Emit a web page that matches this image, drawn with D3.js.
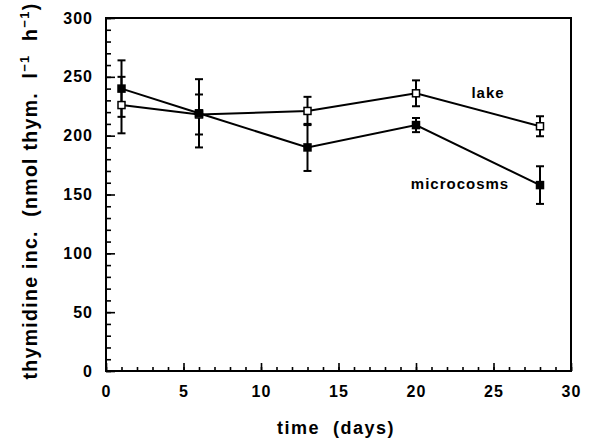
<!DOCTYPE html>
<html>
<head>
<meta charset="utf-8">
<script src="https://cdn.jsdelivr.net/npm/d3@7"></script>
<style>
  body { margin: 0; background: white; }
  text { font-family: "Liberation Sans", Arial, sans-serif; font-weight: bold; fill: black; }
</style>
</head>
<body>
<svg width="592" height="444"></svg>
<script>
// days sampled
let days = [1, 6, 13, 20, 28]

// lake (open squares)
let lake = [226, 218, 221, 236, 208]
let lakeErr = [24, 17, 12, 11, 8.5]

// microcosms (filled squares)
let micro = [240, 219, 190, 209, 158]
let microErr = [24, 29, 20, 6, 16]

let xTicks = [0, 5, 10, 15, 20, 25, 30]
let yTicks = [0, 50, 100, 150, 200, 250, 300]

let svg = d3.select("svg")
let mLeft = 106, mRight = 571, mTop = 18, mBottom = 371

let x = d3.scaleLinear().domain([0, 30]).range([mLeft, mRight])
let y = d3.scaleLinear().domain([0, 300]).range([mBottom, mTop])

// minor ticks
svg.append("g")
  .attr("transform", "translate(0," + mBottom + ")")
  .call(d3.axisBottom(x).tickValues(d3.range(0, 31, 1)).tickSize(-4).tickFormat(""))
  .call(g => g.select(".domain").remove())
svg.append("g")
  .attr("transform", "translate(" + mLeft + ",0)")
  .call(d3.axisLeft(y).tickValues(d3.range(0, 301, 10)).tickSize(-5).tickFormat(""))
  .call(g => g.select(".domain").remove())

// major ticks + labels
let xa = svg.append("g")
  .attr("transform", "translate(0," + mBottom + ")")
  .call(d3.axisBottom(x).tickValues(xTicks).tickSize(-8).tickPadding(15))
xa.select(".domain").remove()
xa.selectAll("text").style("font-size", "16px").style("letter-spacing", "1px")

let ya = svg.append("g")
  .attr("transform", "translate(" + mLeft + ",0)")
  .call(d3.axisLeft(y).tickValues(yTicks).tickSize(-9).tickPadding(13))
ya.select(".domain").remove()
ya.selectAll("text").style("font-size", "16px").style("letter-spacing", "1px")

svg.selectAll(".tick line").attr("stroke-width", 1.6)

// frame
svg.append("rect")
  .attr("x", mLeft).attr("y", mTop)
  .attr("width", mRight - mLeft).attr("height", mBottom - mTop)
  .attr("fill", "none").attr("stroke", "black").attr("stroke-width", 2)

// axis titles
svg.append("text")
  .attr("x", 336).attr("y", 434)
  .attr("text-anchor", "middle")
  .style("font-size", "18px").style("letter-spacing", "1.5px")
  .attr("xml:space", "preserve")
  .text("time  (days)")

let yt = svg.append("text")
  .attr("transform", "translate(37,191) rotate(-90)")
  .attr("text-anchor", "middle")
  .style("font-size", "19.5px").style("letter-spacing", "1.3px")
  .attr("xml:space", "preserve")
yt.append("tspan").text("thymidine inc.  (nmol thym.  l")
yt.append("tspan").attr("dy", -8).style("font-size", "13px").text("−1")
yt.append("tspan").attr("dy", 8).text("  h")
yt.append("tspan").attr("dy", -8).style("font-size", "13px").text("−1")
yt.append("tspan").attr("dy", 8).text(")")

let series = [
  {name: "lake", vals: lake, err: lakeErr, fill: "white"},
  {name: "micro", vals: micro, err: microErr, fill: "black"}
]

let line = d3.line().x((d, i) => x(days[i])).y(d => y(d))

series.forEach(s => {
  svg.append("path")
    .attr("d", line(s.vals))
    .attr("fill", "none").attr("stroke", "black").attr("stroke-width", 2)
})

series.forEach(s => {
  let g = svg.append("g")
  let pts = s.vals.map((v, i) => ({d: days[i], v: v, e: s.err[i]}))

  g.selectAll(".eb").data(pts).enter().append("line")
    .attr("x1", d => x(d.d)).attr("x2", d => x(d.d))
    .attr("y1", d => y(d.v - d.e)).attr("y2", d => y(d.v + d.e))
    .attr("stroke", "black").attr("stroke-width", 2)

  g.selectAll(".capt").data(pts).enter().append("line")
    .attr("x1", d => x(d.d) - 4).attr("x2", d => x(d.d) + 4)
    .attr("y1", d => y(d.v + d.e)).attr("y2", d => y(d.v + d.e))
    .attr("stroke", "black").attr("stroke-width", 2)

  g.selectAll(".capb").data(pts).enter().append("line")
    .attr("x1", d => x(d.d) - 4).attr("x2", d => x(d.d) + 4)
    .attr("y1", d => y(d.v - d.e)).attr("y2", d => y(d.v - d.e))
    .attr("stroke", "black").attr("stroke-width", 2)
})

series.forEach(s => {
  svg.append("g").selectAll("rect").data(s.vals).enter().append("rect")
    .attr("x", (d, i) => x(days[i]) - 3.5)
    .attr("y", d => y(d) - 3.5)
    .attr("width", 7).attr("height", 7)
    .attr("fill", s.fill).attr("stroke", "black").attr("stroke-width", 1.5)
})

// series labels
svg.append("text")
  .attr("x", 488).attr("y", 98)
  .attr("text-anchor", "middle")
  .style("font-size", "15px").style("letter-spacing", "1px")
  .text("lake")

svg.append("text")
  .attr("x", 460).attr("y", 189)
  .attr("text-anchor", "middle")
  .style("font-size", "15px").style("letter-spacing", "1px")
  .text("microcosms")
</script>
</body>
</html>
